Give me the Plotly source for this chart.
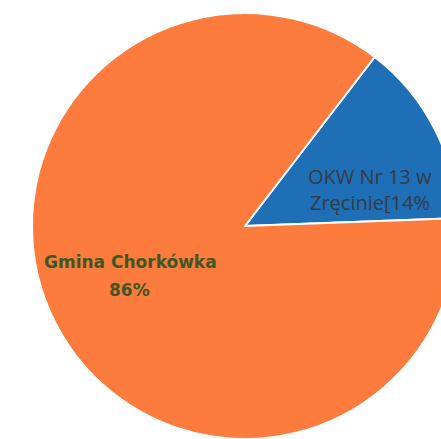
import plotly.graph_objects as go

labels = ["OKW Nr 13 w Zręcinie", "Gmina Chorkówka"]
values = [14, 86]
colors = ["#1E6FB6", "#FD7B3C"]
label_lines = [["OKW Nr 13 w", "Zręcinie[14%"], ["Gmina Chorkówka", "86%"]]

W, H = 480, 439
cx, cy, r = 245, 226, 213

fig = go.Figure(go.Pie(
    labels=labels,
    values=values,
    sort=False,
    direction="clockwise",
    rotation=37.5,
    marker=dict(colors=colors, line=dict(color="white", width=2)),
    textinfo="none",
    hoverinfo="label+percent",
    domain=dict(x=[(cx - r) / W, (cx + r) / W], y=[1 - (cy + r) / H, 1 - (cy - r) / H]),
    showlegend=False,
))

# label line positions (pixel centres)
blue_pos = [(370, 176), (370, 202)]
orange_pos = [(130, 262), (129, 290)]

for (px, py), t in zip(blue_pos, label_lines[0]):
    fig.add_annotation(x=px / W, y=1 - py / H, xref="paper", yref="paper",
                       text=t, showarrow=False, xanchor="center", yanchor="middle",
                       font=dict(family="Open Sans", size=20, color="#353B45"))
for (px, py), t in zip(orange_pos, label_lines[1]):
    fig.add_annotation(x=px / W, y=1 - py / H, xref="paper", yref="paper",
                       text="<b>" + t + "</b>", showarrow=False, xanchor="center", yanchor="middle",
                       font=dict(family="DejaVu Sans", size=17, color="#3D5626"))

fig.update_layout(width=W, height=H, margin=dict(l=0, r=0, t=0, b=0),
                  paper_bgcolor="white", plot_bgcolor="white")

fig.write_html("out.html",
               post_script="document.body.style.overflow='hidden';document.documentElement.style.overflow='hidden';document.body.style.margin='0';")
